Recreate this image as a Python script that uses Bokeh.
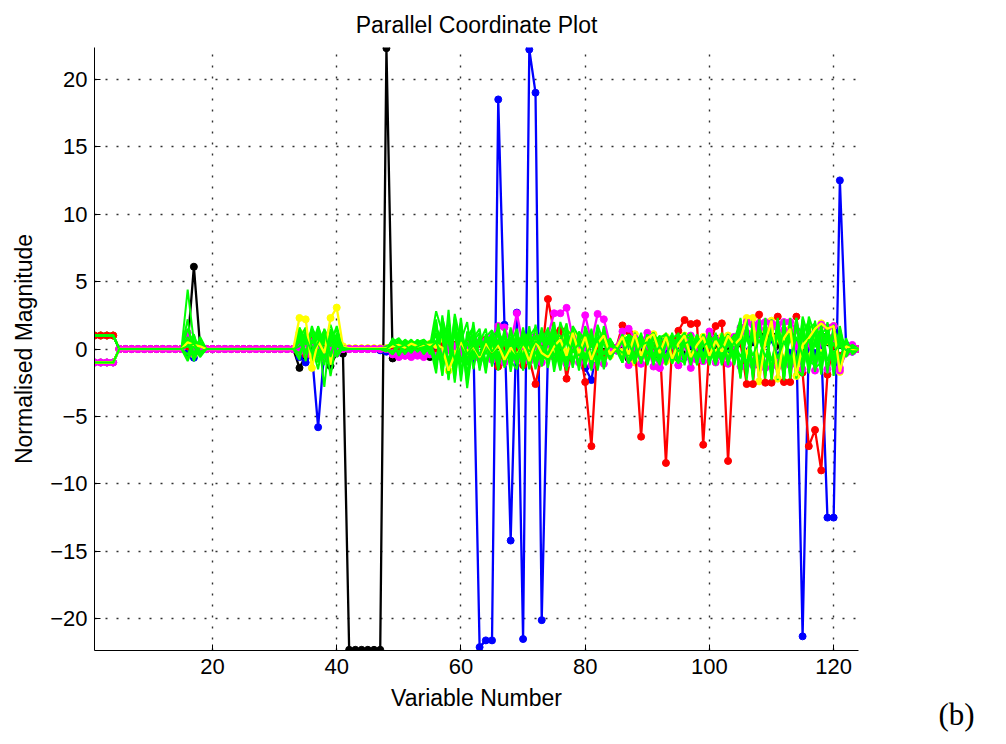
from bokeh.plotting import figure
from bokeh.models import Range1d, FixedTicker, Label
from bokeh.layouts import row
from bokeh.embed import file_html
from bokeh.resources import INLINE

# ---------------- data ----------------
variables = list(range(1, 125))
x_ticks = [20, 40, 60, 80, 100, 120]
y_ticks = [-20, -15, -10, -5, 0, 5, 10, 15, 20]

zeros_5_15 = [0.0] * 11
zeros_19_33 = [0.0] * 15
zeros_42_48 = [0.0] * 7

def series(head, s16, s34, s42, tail):
    vals = head + zeros_5_15 + s16 + zeros_19_33 + s34 + s42 + tail
    assert len(vals) == 124, len(vals)
    return vals

black_a = series(
    [1, 1, 1, 1], [0.3, 6.1, 0.2],
    [-1.4, -0.5, 0.3, -0.2, 0.5, -1.26, -0.3, -0.35],
    [-22.3, -22.3, -22.3, -22.3, -22.3, -22.3, 22.3],
    [-0.7, -0.3, -0.2, -0.4, -0.3, -0.5, -0.6, -0.2, 0.1, 0.2,
     0.3, 0.1, -0.2, 0.2, 0.4, 0.1, -0.3, 0.2, 0.5, -0.4,
     0.3, 0.2, 0.4, 0.9, 0.3, -0.2, 0.5, 0.1, -0.4, 0.3,
     0.2, -0.3, 0.4, 0.1, -0.2, 0.3, -0.1, 0.2, -0.7, -0.4,
     -0.3, 0.4, 0.2, -0.5, -0.2, 0.3, 0.1, -0.4, 0.2, -0.3,
     0.2, -0.4, 0.3, -0.2, 0.1, 0.2, 0.4, -0.3, 0.5, 1.1,
     0.4, 1.0, 0.3, 0.6, 1.0, 0.2, -0.3, 0.4, 0.8, 1.0,
     0.5, 0.2, 0.3, -0.2, 0.1, 0.0])

blue_a = series(
    [-1, -1, -1, -1], [-0.3, -0.65, 0.1],
    [-0.6, -1.0, -0.3, -5.8, -0.1, -0.6, -0.3, 0.0],
    [0.0, 0.0, 0.0, 0.0, 0.0, -0.1, -0.2],
    [0.3, 0.1, -0.1, 0.2, 0.0, -0.2, 0.1, 0.2, -0.1, 0.0,
     0.2, -0.1, 0.1, 0.3, -22.1, -21.6, -21.6, 18.5, 1.8, -14.2,
     2.7, -21.5, 22.2, 19.0, -20.1, -0.2, 0.5, 0.3, 0.8, 0.2,
     0.4, -1.4, -2.3, 0.4, 1.0, 0.3, -0.1, 0.6, -0.2, 0.5,
     0.3, -0.5, 0.2, 0.6, -0.3, 0.4, 0.2, -0.6, 0.3, 0.1,
     -0.3, 0.5, 0.8, 0.2, -0.4, 0.3, 0.6, -0.2, 0.9, -1.2,
     0.4, 0.7, -0.5, 0.6, -0.3, 0.4, -21.3, 0.5, -0.3, 0.2,
     -12.5, -12.5, 12.5, 0.3, -0.2, 0.0])

red_a = series(
    [1, 1, 1, 1], [0.2, -0.3, 0.0],
    [0.5, -0.4, 0.8, 0.2, -0.5, 0.6, 0.3, 0.0],
    zeros_42_48,
    [0.2, -0.2, 0.1, 0.3, -0.1, 0.2, 0.0, -0.3, 0.2, 0.1,
     0.3, -0.2, 0.4, 0.6, 0.4, 0.7, -0.5, -1.3, 0.2, 0.5,
     -0.2, -1.2, -0.7, -2.6, -0.5, 3.7, 1.2, 1.4, -2.2, 0.3,
     0.4, -2.45, -7.2, 0.5, -0.3, 0.2, 0.1, 1.75, 1.3, 0.2,
     -6.5, 0.5, 0.2, 0.4, -8.45, 0.3, 1.35, 2.15, 1.85, 1.9,
     -7.1, 0.3, 1.7, 1.9, -8.3, 0.2, 0.5, -2.6, -2.6, 2.55,
     -2.5, -2.5, 2.4, -2.45, -2.45, 2.4, -1.75, -7.2, -6.0, -9.0,
     -1.9, 0.3, -0.5, 0.2, 0.1, 0.0])

magenta_a = series(
    [-1, -1, -1, -1], [1.2, -0.3, 0.1],
    [0.3, -0.2, 0.5, -0.6, -0.5, 0.2, -0.3, 0.0],
    zeros_42_48,
    [-0.3, -0.4, -0.5, -0.6, -0.3, -0.4, -0.2, -0.5, -0.3, -0.1,
     0.2, -0.3, 0.3, 0.8, 0.5, 0.6, 0.9, 1.7, 1.6, 0.4,
     2.65, 0.2, 0.5, 0.9, 0.6, 1.0, 2.65, 2.65, 3.05, 0.8,
     0.3, 2.5, 0.5, 2.6, 2.2, 0.3, 0.1, 1.3, 1.5, 0.8,
     0.5, 1.2, -0.4, -1.4, 0.2, 0.4, -1.2, 0.6, 1.0, -0.8,
     0.5, 1.3, 0.7, -0.6, 0.4, 0.9, 1.6, 2.0, 1.8, 1.9,
     2.0, 1.9, 1.8, 2.0, 2.0, 1.4, 0.8, 0.5, 1.2, 1.8,
     1.6, 1.7, -1.6, 0.2, 0.3, 0.0])

magenta_b = series(
    [-1, -1, -1, -1], [0.4, -0.2, 0.0],
    [-0.2, 0.4, -0.5, 0.3, -0.7, 0.1, 0.2, 0.0],
    zeros_42_48,
    [-0.4, -0.6, -0.5, -0.3, -0.5, -0.6, -0.4, -0.6, -0.3, 0.1,
     -0.5, 0.2, -0.9, 0.3, -0.7, 0.4, -0.8, 0.5, -1.0, 0.2,
     -0.8, 0.6, -0.9, 0.2, -1.0, 0.4, -0.6, 0.5, -1.1, 0.3,
     -1.0, 0.2, -1.2, 0.6, -1.1, 0.1, -0.1, 0.4, -1.2, 0.2,
     -1.1, 0.3, -1.3, -1.4, -0.6, 0.5, -1.2, 0.3, -1.4, 0.2,
     -0.9, 0.6, -1.0, 0.2, -1.1, 0.4, -1.3, 1.2, -1.2, 1.5,
     -1.4, 1.6, -1.3, 1.4, -1.2, 0.3, -1.5, 0.6, -1.6, 0.8,
     -1.5, 0.9, -1.4, -0.3, -0.2, 0.0])

yellow_a = series(
    [-1, -1, -1, -1], [0.5, 0.3, 0.2],
    [2.3, 2.2, -1.4, 0.6, -0.3, 2.3, 3.07, 0.2],
    [0.05, 0.05, 0.05, 0.05, 0.05, 0.05, 0.05],
    [0.2, 0.3, 0.1, 0.4, 0.2, 0.3, 0.3, 0.35, 0.1, -1.6,
     -0.4, 0.5, -0.3, 0.2, -0.6, 0.4, -0.2, 0.3, -0.8, 0.1,
     -0.4, 0.3, -0.9, 0.6, -0.3, -0.6, 0.2, 0.7, -0.5, 1.2,
     -0.3, 0.9, -0.8, 0.4, 1.0, -0.4, 0.1, 0.9, -0.4, 1.1,
     -0.5, 0.8, 1.1, -0.3, 0.9, -0.7, 0.4, 1.0, -0.6, 0.3,
     0.9, -0.5, 0.6, -0.2, 1.0, 0.3, 0.8, 2.3, 2.3, -2.4,
     0.5, 2.1, -2.2, 0.8, 1.5, -2.0, 0.3, 0.8, 1.5, 1.9,
     1.5, 1.7, -1.7, 0.2, 0.0, 0.0])

yellow_b = series(
    [1, 1, 1, 1], [0.2, -0.4, 0.3],
    [1.2, 0.4, 1.0, -0.6, 0.8, -0.9, 0.5, 0.1],
    [0.05, 0.05, 0.05, 0.05, 0.05, 0.05, 0.05],
    [0.3, 0.2, 0.4, 0.3, 0.1, 0.2, 0.4, 0.3, 0.5, 0.2,
     -0.2, 0.4, 0.1, -0.3, 0.5, -0.1, 0.3, -0.5, 0.4, -0.2,
     0.6, -0.3, 0.2, -0.7, 0.5, 0.1, -0.4, 0.8, -0.2, 0.4,
     0.9, -0.5, 1.1, -0.3, 0.6, -0.5, 0.1, -0.2, 0.7, -1.0,
     0.4, -0.6, 0.8, 0.1, -0.9, 0.6, -0.3, 0.9, -0.5, 0.7,
     -0.8, 0.4, -0.3, 0.9, -0.6, 0.2, 1.0, -0.4, 1.2, -1.0,
     1.4, -1.2, 0.9, -0.8, 1.3, -1.1, 0.4, -0.6, 0.9, -0.3,
     0.6, -0.5, 0.4, 0.1, 0.0, 0.0])

green_1 = series(
    [1, 1, 1, 1], [4.4, 0.5, -0.2],
    [0.8, 1.6, -0.5, 1.2, -2.8, 1.5, 0.3, 0.1],
    [0.0, 0.0, 0.0, 0.0, 0.0, 0.0, 0.2],
    [0.5, 0.8, 0.2, -0.3, 0.4, 0.1, -0.2, 2.0, -1.9, 2.9,
     -2.2, 1.5, -2.9, 0.6, 1.2, -1.0, 0.8, -1.5, 1.1, -0.6,
     1.3, -1.2, 0.9, 1.6, -0.8, 1.4, -1.1, 2.0, 0.5, -1.3,
     1.2, -0.9, 1.5, -1.4, 0.7, 0.6, -0.2, 0.9, -0.5, 1.0,
     -1.0, 0.8, 1.2, -0.7, 1.0, -1.1, 0.6, 1.2, -0.8, 1.0,
     -1.1, 0.5, 1.0, -0.9, 0.7, -0.4, 2.3, -2.0, 2.2, -2.3,
     2.1, -2.2, 2.3, -1.9, 2.2, -2.1, 2.4, 0.8, -1.5, 1.6,
     -1.8, 1.4, 0.6, -0.2, 0.3, 0.0])

green_2 = series(
    [-1, -1, -1, -1], [0.8, -0.9, 0.3],
    [1.5, -0.4, 1.7, 0.2, 1.3, -0.6, 1.0, 0.0],
    [0.0, 0.0, 0.0, 0.0, 0.0, 0.0, -0.2],
    [0.8, 0.3, -0.4, 0.6, -0.2, 0.3, 0.5, -1.5, 2.5, -1.2,
     1.8, -2.4, 1.3, -0.8, 0.5, 1.5, -1.3, 0.7, -1.0, 1.6,
     -0.7, 1.1, -1.5, 0.4, 1.3, -0.6, 1.8, -1.2, 1.0, 0.6,
     -1.4, 1.7, 0.3, -0.8, 1.5, -0.7, 0.1, -0.7, 1.1, -0.9,
     0.7, -1.2, 0.4, 1.0, -0.9, 0.8, 1.1, -0.7, 0.5, -1.0,
     1.1, -0.8, 0.3, 1.0, -1.0, 0.8, -2.1, 2.2, -2.3, 2.1,
     -2.2, 2.0, -2.3, 2.2, -1.8, 2.1, -1.2, 2.4, 1.0, -1.7,
     1.3, -1.5, 0.9, 0.4, -0.3, 0.0])

green_3 = series(
    [1, 1, 1, 1], [-0.7, 1.0, -0.4],
    [-0.6, 1.1, 0.4, 1.6, -0.3, 1.2, -0.2, 0.2],
    [0.0, 0.0, 0.0, 0.0, 0.0, 0.0, 0.1],
    [-0.3, 0.4, 0.6, 0.2, 0.5, -0.4, 0.2, 1.5, 0.8, -2.2,
     2.6, 0.4, -1.8, 1.2, -0.5, 0.9, 1.4, -0.8, 0.6, -1.3,
     0.8, -1.6, 1.2, -0.4, 0.7, 1.5, -1.3, 0.5, 1.9, -0.9,
     0.6, 1.2, -1.6, 0.9, -0.4, 0.8, -0.1, 1.0, 0.2, -1.1,
     0.9, 0.3, -1.0, 0.8, 1.1, -0.6, -1.0, 1.0, 0.7, -0.7,
     0.9, -1.2, 0.8, -0.5, 1.1, -1.0, 1.8, -1.6, 1.7, -1.9,
     1.8, -2.3, 1.9, -2.2, 1.7, -1.5, -2.0, 1.5, 1.9, 0.6,
     -1.4, 1.1, -0.7, 0.5, 0.1, 0.0])

green_4 = series(
    [-1, -1, -1, -1], [0.3, -0.5, 0.9],
    [0.5, 1.3, -0.8, 0.9, 0.6, 1.8, 0.4, 0.0],
    zeros_42_48,
    [0.6, -0.5, 0.3, 0.7, -0.1, 0.4, -0.3, 1.8, -1.0, 2.2,
     -1.5, 2.0, -1.2, -0.3, 0.9, -1.2, 0.3, 1.1, -1.4, 0.9,
     -1.0, 0.6, 1.3, -1.5, 0.2, -1.0, 1.1, -0.4, -1.1, 1.5,
     -0.5, 0.3, 1.1, -1.6, 0.8, -0.5, 0.2, -1.0, 0.6, 0.9,
     -0.8, 1.1, -0.5, -1.1, 0.6, 1.0, -0.8, -1.0, 1.1, 0.4,
     -1.0, 1.0, -1.1, 0.7, -0.8, 1.0, -1.7, 1.5, -1.9, 1.6,
     -1.7, 1.8, -1.6, 1.9, -2.0, 1.7, 1.2, -1.8, 0.7, 1.3,
     0.8, -1.2, 1.5, -0.5, 0.2, 0.0])

green_5 = series(
    [1, 1, 1, 1], [1.5, 0.2, -0.6],
    [1.2, 0.3, 1.4, -0.5, 1.1, 0.2, 0.8, -0.1],
    zeros_42_48,
    [0.2, 0.6, -0.3, 0.1, 0.7, 0.2, 0.6, -0.8, 1.6, -1.6,
     2.2, -1.0, 0.8, 1.4, -1.1, 0.5, -0.6, 1.3, 0.4, -0.9,
     0.5, 0.9, -0.6, 1.0, -1.3, 0.6, 0.3, -1.6, 1.2, -0.3,
     1.0, -1.3, 0.7, 0.4, -1.2, 0.5, 0.0, 0.9, -1.0, 0.5,
     1.0, -0.4, 0.9, -0.9, 0.3, 1.1, -0.9, 0.5, -0.8, 1.1,
     -0.5, 1.0, -0.9, 1.0, 0.5, -1.1, 0.9, -1.8, 1.5, -1.4,
     1.3, -1.6, 1.4, -1.3, 1.5, -1.2, 1.9, -0.9, -1.2, 1.9,
     -0.9, 0.5, -1.1, 0.8, -0.4, 0.0])

green_6 = series(
    [-1, -1, -1, -1], [-0.4, 0.6, 0.2],
    [-0.3, 0.7, 1.0, -0.2, 0.5, 1.0, -0.4, 0.1],
    zeros_42_48,
    [-0.4, 0.2, 0.5, -0.2, 0.3, 0.6, -0.4, 1.2, -2.0, 1.6,
     -1.0, 2.3, -2.2, 0.9, -1.3, 1.0, 0.6, -1.1, 0.9, 0.3,
     -1.2, 1.4, 0.3, -0.9, 1.1, -1.4, 0.8, 1.0, -0.7, 0.4,
     -1.1, 0.8, -0.5, 1.3, -0.9, 0.4, -0.2, 0.6, 1.0, -0.8,
     0.5, -1.1, 1.0, 0.6, -1.2, 0.3, 0.9, -1.2, 1.0, -1.0,
     0.7, -1.1, 1.1, -1.2, 0.5, 1.0, -1.3, 1.3, -1.2, 2.0,
     -1.5, 1.4, -1.9, 1.6, -1.4, 2.3, -0.6, 1.2, -1.4, -1.0,
     1.8, -0.8, 0.3, -0.6, 0.2, 0.0])

green_7 = series(
    [1, 1, 1, 1], [0.6, -0.3, 0.4],
    [0.9, -0.2, 0.6, 1.3, -0.7, 0.8, 0.2, 0.0],
    zeros_42_48,
    [0.3, -0.2, 0.4, 0.5, 0.2, -0.3, 0.4, 0.6, 1.1, -0.9,
     1.2, -1.6, 0.5, -0.6, 1.0, -0.4, 1.1, 0.2, -0.7, 1.2,
     0.2, -0.5, 1.0, 0.7, -1.0, 0.9, -0.5, 0.3, 0.8, -1.1,
     0.5, -0.6, 0.9, -0.3, 1.2, -0.7, 0.1, -0.9, 0.8, 0.3,
     -0.6, 1.0, -0.8, 0.5, 0.9, -1.0, 0.6, 0.2, -0.4, 0.9,
     0.4, -0.6, 1.0, -0.9, 1.1, -0.6, 0.7, -1.1, 0.9, -0.8,
     1.0, -0.9, 1.1, -1.0, 0.8, -0.9, 1.5, -1.4, 0.6, -0.8,
     1.1, -0.6, 0.5, 0.2, -0.1, 0.0])

green_8 = series(
    [-1, -1, -1, -1], [0.2, 0.4, -0.3],
    [0.2, 0.9, -0.3, 0.5, 1.4, -0.5, 1.2, 0.1],
    zeros_42_48,
    [0.4, 0.1, 0.3, -0.1, 0.2, 0.4, 0.1, 0.5, -0.6, 1.0,
     -0.8, 0.9, -0.4, 0.3, -0.5, 0.7, -0.2, 0.5, -0.3, 0.6,
     -0.5, 0.4, -0.2, 0.6, 0.2, -0.4, 0.5, -0.3, 0.6, -0.2,
     0.4, -0.5, 0.3, 0.6, -0.4, 0.2, 0.1, -0.3, 0.4, -0.6,
     0.3, 0.5, -0.4, 0.2, -0.6, 0.7, -0.2, 0.4, 0.6, -0.5,
     0.2, 0.6, -0.4, 0.3, -0.2, 0.5, -0.6, 0.8, -0.5, 0.7,
     -0.6, 0.9, -0.7, 0.6, -0.8, 0.9, -0.5, 0.7, 0.3, -0.4,
     0.6, -0.3, 0.4, -0.1, 0.1, 0.0])

green_9 = series(
    [1, 1, 1, 1], [0.9, -0.6, 0.5],
    [1.6, 0.5, 1.2, -1.0, 1.5, 0.4, 1.7, 0.0],
    zeros_42_48,
    [0.6, 0.2, 0.7, 0.3, -0.2, 0.5, 0.2, 2.8, 1.2, -1.5,
     2.4, -1.8, 0.9, 1.6, -1.6, 1.1, -0.9, 1.9, -1.2, 0.4,
     1.5, -0.8, 1.7, -1.1, 1.2, 0.3, 2.0, -1.5, 1.4, 1.0,
     -1.6, 1.5, -0.7, 1.8, 0.4, -0.8, 0.2, 0.5, -1.1, 1.2,
     -0.8, 1.1, -1.2, 0.9, 1.0, -1.1, 1.2, -1.0, 1.2, -0.6,
     1.1, 0.2, -1.2, 1.2, -1.0, 0.6, 2.2, -2.3, 2.0, -2.1,
     2.3, -1.9, 2.1, -2.3, 2.0, -1.8, 2.2, -1.6, 2.1, -1.5,
     1.9, -2.0, 1.2, -0.4, 0.2, 0.0])

green_10 = series(
    [-1, -1, -1, -1], [2.2, -0.8, 0.2],
    [-0.8, 1.4, 0.2, -1.5, 1.1, -2.0, 0.6, 0.0],
    zeros_42_48,
    [0.2, 0.7, -0.2, 0.4, 0.6, -0.1, 0.5, -1.2, 1.9, -2.3,
     1.5, 0.6, 2.0, -1.5, 0.8, -1.8, 1.4, -0.5, 1.3, -1.7,
     1.0, 0.4, -1.3, 1.8, -0.9, 1.6, -1.7, 0.8, -1.2, 1.7,
     0.9, -1.4, 1.3, -1.0, 1.7, -0.6, 0.0, 1.1, -1.0, -0.3,
     1.2, -1.0, 1.0, -1.2, 1.1, 0.5, -1.1, 1.2, -1.1, 1.0,
     -1.1, 1.2, -0.8, 1.1, -1.2, 1.1, -2.2, 1.9, -2.1, 2.2,
     -2.0, 2.2, -2.1, 1.8, -2.2, 2.3, -1.9, 2.0, -1.0, 1.5,
     -1.6, 1.8, -1.3, 0.6, -0.2, 0.0])

green_11 = series(
    [1, 1, 1, 1], [0.4, 1.1, -0.5],
    [1.0, -0.9, 1.5, 0.8, -1.2, 1.4, -0.6, 0.1],
    zeros_42_48,
    [-0.2, 0.5, 0.1, 0.6, 0.3, 0.2, -0.2, 2.2, -1.6, 1.3,
     -2.5, 1.7, -1.0, 2.0, -1.4, 0.2, 1.2, -1.6, 1.5, -0.9,
     -1.5, 1.2, 0.5, -1.3, 1.6, -1.1, 1.0, -0.8, 1.6, -1.4,
     1.3, 0.6, -1.2, 1.5, -1.5, 0.7, -0.1, -1.0, 1.0, 0.8,
     -1.1, 1.0, 0.2, -1.1, 1.2, -0.9, 1.1, 0.6, -1.2, 1.1,
     -0.9, 1.2, -1.1, 0.4, 1.1, -1.2, 1.6, -2.1, 1.9, -2.2,
     2.0, -2.1, 1.8, -2.3, 2.3, -2.0, 1.0, 2.1, -1.7, 1.2,
     1.5, -1.7, 0.8, 0.3, -0.3, 0.0])

green_12 = series(
    [-1, -1, -1, -1], [-0.9, 0.3, 0.6],
    [0.6, 1.0, -1.1, 1.7, 0.3, 0.9, 1.4, 0.0],
    zeros_42_48,
    [0.5, -0.3, 0.4, 0.1, 0.5, 0.7, 0.3, -1.8, 2.3, 0.5,
     -1.9, 1.2, -2.5, 0.8, 1.5, -1.5, 0.9, 1.4, -0.6, 1.4,
     -0.9, 1.6, -1.0, 0.3, 1.4, -1.2, 1.5, 0.2, -1.6, 0.8,
     -1.2, 1.4, -1.4, 0.7, 1.1, -0.8, 0.15, -1.0, 1.1, -1.1,
     1.0, -1.1, 1.2, 0.3, -1.0, 1.2, -1.0, 0.9, 1.1, -1.2,
     1.1, -1.0, 1.2, -1.1, 1.0, -0.8, 1.4, -1.5, 1.6, -1.6,
     1.9, -1.7, 2.2, -1.5, 1.6, -2.2, 2.0, -1.3, 1.7, -1.9,
     2.0, -1.4, 1.7, -0.5, 0.3, 0.0])

BLACK, BLUE, RED, MAGENTA, YELLOW, GREEN = (
    "#000000", "#0000FF", "#FF0000", "#FF00FF", "#FFFF00", "#00FF00")

# drawing layers, bottom to top: (values, colour, draw line, draw markers)
layers = [
    (black_a, BLACK, True, True),
    (blue_a, BLUE, True, True),
    (yellow_b, YELLOW, True, True),
    (yellow_a, YELLOW, False, True),
    (red_a, RED, True, True),
    (magenta_a, MAGENTA, True, True),
    (magenta_b, MAGENTA, True, True),
    (green_1, GREEN, True, False),
    (green_2, GREEN, True, False),
    (green_3, GREEN, True, False),
    (green_4, GREEN, True, False),
    (green_5, GREEN, True, False),
    (green_6, GREEN, True, False),
    (green_7, GREEN, True, False),
    (green_9, GREEN, True, False),
    (green_10, GREEN, True, False),
    (green_11, GREEN, True, False),
    (green_12, GREEN, True, False),
    (yellow_a, YELLOW, True, False),
    (green_8, GREEN, True, False),
]

# ---------------- figure ----------------
FONT = "Liberation Sans"
p = figure(width=900, height=744, output_backend="svg", toolbar_location=None,
           x_range=Range1d(1, 124), y_range=Range1d(-22.35, 22.35),
           min_border_left=94, min_border_right=42, min_border_top=47,
           min_border_bottom=94, title="Parallel Coordinate Plot")
p.background_fill_color = "white"
p.border_fill_color = "white"
p.outline_line_color = None

p.title.align = "center"
p.title.text_font = FONT
p.title.text_font_size = "23px"
p.title.text_font_style = "normal"
p.title.text_color = "black"
p.title.standoff = 19

for ax in (p.xaxis[0], p.yaxis[0]):
    ax.major_label_text_font = FONT
    ax.major_label_text_font_size = "22px"
    ax.major_label_text_color = "black"
    ax.axis_label_text_font = FONT
    ax.axis_label_text_font_size = "23px"
    ax.axis_label_text_font_style = "normal"
    ax.axis_label_text_color = "black"
    ax.axis_line_color = "black"
    ax.axis_line_width = 1
    ax.major_tick_in = 6
    ax.major_tick_out = 0
    ax.major_tick_line_color = "black"
    ax.minor_tick_line_color = None

p.xaxis[0].ticker = FixedTicker(ticks=x_ticks)
p.yaxis[0].ticker = FixedTicker(ticks=y_ticks)
p.xaxis[0].axis_label = "Variable Number"
p.yaxis[0].axis_label = "Normalised Magnitude"
p.xaxis[0].major_label_standoff = 8
p.yaxis[0].major_label_standoff = 7
p.xaxis[0].axis_label_standoff = 8
p.yaxis[0].axis_label_standoff = 10

p.xgrid.ticker = FixedTicker(ticks=x_ticks)
p.ygrid.ticker = FixedTicker(ticks=y_ticks)
for g in (p.xgrid[0], p.ygrid[0]):
    g.grid_line_color = "#303030"
    g.grid_line_width = 1.4
    g.grid_line_dash = "2 9"

for vals, col, draw_line, draw_marks in layers:
    if draw_line:
        p.line(variables, vals, line_color=col,
               line_width=2.0 if col == GREEN else 2.3)
    if draw_marks:
        p.scatter(variables, vals, size=7, fill_color=col, line_color=col)

# side panel carrying the "(b)" caption
side = figure(width=106, height=744, output_backend="svg", toolbar_location=None,
              x_range=Range1d(0, 106), y_range=Range1d(0, 744),
              min_border=0, min_border_left=0, min_border_right=0,
              min_border_top=0, min_border_bottom=0)
if "frame_align" in side.properties():
    side.frame_align = False
if "frame_align" in p.properties():
    p.frame_align = False
side.xaxis.visible = False
side.yaxis.visible = False
side.xgrid.visible = False
side.ygrid.visible = False
side.outline_line_color = None
side.background_fill_color = "white"
side.border_fill_color = "white"
side.add_layout(Label(x=38, y=30, text="(b)", text_font="Liberation Serif",
                      text_font_size="31px", text_color="black",
                      text_baseline="alphabetic"))

layout = row(p, side)
open("out.html", "w").write(file_html(layout, INLINE))
